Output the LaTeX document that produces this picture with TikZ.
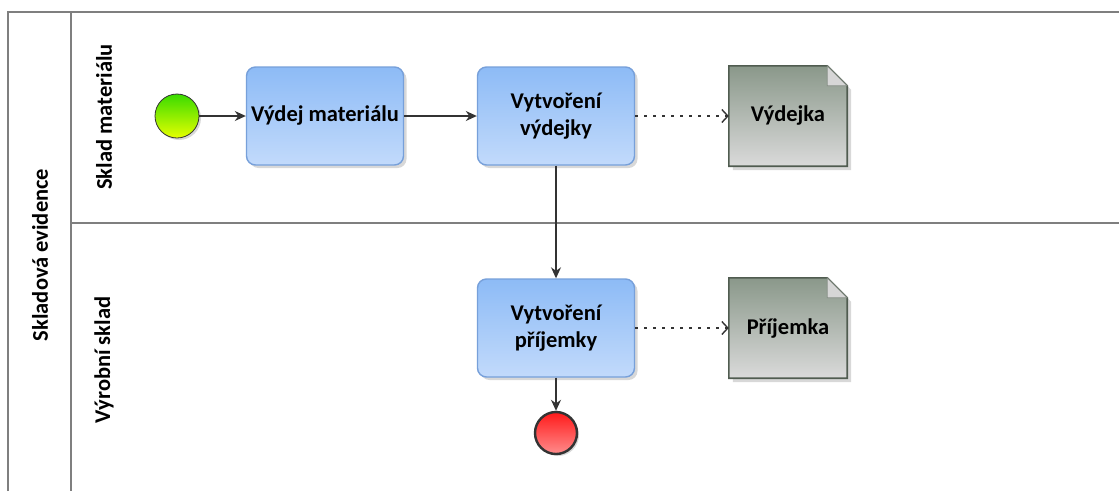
\documentclass[tikz,border=0pt]{standalone}
\usepackage{fontspec}
\setmainfont{Carlito}
\usepackage{tikz}
\usetikzlibrary{backgrounds}
\usetikzlibrary{shadows}
\usetikzlibrary{shapes,arrows,arrows.meta}
\usetikzlibrary{positioning}
\definecolor{taskTop}{HTML}{8DBBF6}
\definecolor{taskBot}{HTML}{C2DAFB}
\definecolor{taskLine}{HTML}{77A0DA}
\definecolor{docTop}{HTML}{8A988A}
\definecolor{docBot}{HTML}{DADADA}
\definecolor{docLine}{HTML}{505C50}
\definecolor{foldGray}{HTML}{D6D6D6}
\definecolor{arrowGray}{HTML}{333333}
\definecolor{poolGray}{HTML}{7F7F7F}
\newcommand{\labfont}{\fontsize{22.5}{27}\selectfont\bfseries}
\tikzstyle{task} = [rectangle, rounded corners=9pt, draw=taskLine, line width=1.4pt,
    top color=taskTop, bottom color=taskBot, align=center, font=\labfont,
    minimum width=157pt, minimum height=98pt,
    drop shadow={shadow xshift=3pt, shadow yshift=-3pt, opacity=0.3}]
\tikzstyle{dataobj} = [rectangle, minimum width=118pt, minimum height=100pt, font=\labfont]
\tikzstyle{docshape} = [draw=docLine, line width=1.6pt, top color=docTop, bottom color=docBot,
    drop shadow={shadow xshift=4pt, shadow yshift=-4pt, opacity=0.3}]
\tikzstyle{startev} = [circle, draw=arrowGray, line width=0.8pt, minimum size=44pt,
    top color=green!80!black!70!lime, bottom color=yellow!60!lime,
    drop shadow={shadow xshift=2pt, shadow yshift=-2pt, opacity=0.3}]
\tikzstyle{endev} = [circle, draw=arrowGray, line width=2.4pt, minimum size=42pt,
    top color=red!90, bottom color=red!45,
    drop shadow={shadow xshift=2pt, shadow yshift=-2pt, opacity=0.3}]
\tikzstyle{line} = [draw, -{Stealth[length=11pt,width=10pt]}, line width=1.3pt, arrowGray]
\tikzstyle{assoc} = [draw, -{Straight Barb[length=6pt,width=13pt]}, line width=1.4pt,
    dash pattern=on 3pt off 6pt, arrowGray]
\tikzstyle{poolline} = [draw=poolGray, line width=1.3pt]

\begin{document}
\begin{tikzpicture}[x=1pt,y=-1pt,node distance=232pt]
    \useasboundingbox (0,0) rectangle (1119,491);
    % Pool and lanes
    \draw[poolline] (8,491) -- (8,12) -- (1119,12);
    \draw[poolline] (71,12) -- (71,491);
    \draw[poolline] (71,223) -- (1119,223);
    \node[rotate=90, font=\labfont] (pool) at (40,255) {Skladová evidence};
    \node[rotate=90, font=\labfont] (lane1) at (104,117) {Sklad materiálu};
    \node[rotate=90, font=\labfont] (lane2) at (104,360) {Výrobní sklad};
    % Place nodes
    \node [task] (vydej) at (325,116) {Výdej materiálu};
    \node [startev, left of=vydej, node distance=148pt] (start) {};
    \node [task, right of=vydej, node distance=231pt] (vytvvyd) {Vytvoření\\výdejky};
    \node [dataobj, right of=vytvvyd] (vydejka) {Výdejka};
    \node [task, below of=vytvvyd, node distance=212pt] (vytvpri) {Vytvoření\\příjemky};
    \node [dataobj, right of=vytvpri] (prijemka) {Příjemka};
    \node [endev, below of=vytvpri, node distance=105pt] (end) {};
    % Data object shapes
    \begin{scope}[on background layer]
    \fill[white] (0,0) rectangle (1119,491);
    \foreach \d in {vydejka,prijemka} {
        \path[docshape] (\d.south west) -- (\d.north west) -- ([xshift=-20pt]\d.north east)
            -- ([yshift=-20pt]\d.north east) -- (\d.south east) -- cycle;
        \filldraw[fill=foldGray, draw=docLine!70, line width=0.8pt] ([xshift=-20pt]\d.north east)
            -- ([xshift=-20pt,yshift=-20pt]\d.north east) -- ([yshift=-20pt]\d.north east) -- cycle;
    }
    \end{scope}
    % Draw edges
    \path [line] (start) -- (vydej);
    \path [line] (vydej) -- (vytvvyd);
    \path [line] (vytvvyd) -- (vytvpri);
    \path [line] (vytvpri) -- (end);
    \path [assoc] (vytvvyd) -- (vydejka);
    \path [assoc] (vytvpri) -- (prijemka);
\end{tikzpicture}
\end{document}
